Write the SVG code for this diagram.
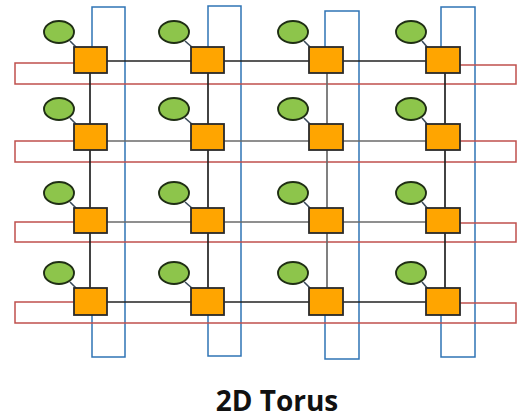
<svg xmlns="http://www.w3.org/2000/svg" width="517" height="419" viewBox="0 0 517 419">
<style>
.bg{fill:#ffffff}
.grid{stroke:#222;stroke-width:1.7;fill:none}
.gridl{stroke:#6a6a6a;stroke-width:1.7;fill:none}
.wrapv{stroke:#2f74b5;stroke-width:1.5;fill:none}
.wraph{stroke:#c0504d;stroke-width:1.5;fill:none}
.pe{fill:#8dc54b;stroke:#1f2e14;stroke-width:1.9}
.sw{fill:#ffa500;stroke:#2a2a2a;stroke-width:1.8}
.link{stroke:#3a4a5a;stroke-width:1.6}
.title{font-family:"Open Sans","DejaVu Sans",sans-serif;font-weight:bold;font-size:28px;fill:#111}
</style>
<rect class="bg" x="0" y="0" width="517" height="419"/>
<g id="connectors">
  <path class="wrapv" d="M92,47 V7 H125 V357 H92 V315"/>
  <path class="wrapv" d="M208,47 V6 H241 V356 H208 V315"/>
  <path class="wrapv" d="M325,47 V11 H359 V359 H325 V315"/>
  <path class="wrapv" d="M441,47 V7 H475 V357 H441 V315"/>
  <path class="wraph" d="M74,63 H15 V84 H516 V65 H460"/>
  <path class="wraph" d="M74,141 H15 V162 H516 V141 H460"/>
  <path class="wraph" d="M74,222 H15 V242 H516 V223 H460"/>
  <path class="wraph" d="M74,302 H15 V323 H516 V303 H460"/>
  <line class="grid" x1="107" y1="61" x2="426" y2="61"/>
  <line class="gridl" x1="107" y1="141" x2="426" y2="141"/>
  <line class="gridl" x1="107" y1="222" x2="426" y2="222"/>
  <line class="grid" x1="107" y1="302" x2="426" y2="302"/>
  <line class="grid" x1="90" y1="73" x2="90" y2="288"/>
  <line class="grid" x1="208" y1="73" x2="208" y2="288"/>
  <line class="gridl" x1="327" y1="73" x2="327" y2="288"/>
  <line class="grid" x1="445" y1="73" x2="445" y2="288"/>
</g>
<g id="n11"><line class="link" x1="70" y1="41" x2="77" y2="48"/><ellipse class="pe" cx="59" cy="32" rx="15" ry="11"/><rect class="sw" x="74" y="47" width="33" height="26"/></g>
<g id="n12"><line class="link" x1="185" y1="41" x2="193" y2="48"/><ellipse class="pe" cx="174" cy="32" rx="15" ry="11"/><rect class="sw" x="191" y="47" width="33" height="26"/></g>
<g id="n13"><line class="link" x1="304" y1="41" x2="311" y2="48"/><ellipse class="pe" cx="293" cy="32" rx="15" ry="11"/><rect class="sw" x="309" y="47" width="34" height="26"/></g>
<g id="n14"><line class="link" x1="422" y1="41" x2="428" y2="48"/><ellipse class="pe" cx="411" cy="32" rx="15" ry="11"/><rect class="sw" x="426" y="47" width="34" height="26"/></g>

<g id="n21"><line class="link" x1="70" y1="118" x2="77" y2="125"/><ellipse class="pe" cx="59" cy="109" rx="15" ry="11"/><rect class="sw" x="74" y="124" width="33" height="26"/></g>
<g id="n22"><line class="link" x1="185" y1="118" x2="193" y2="125"/><ellipse class="pe" cx="174" cy="109" rx="15" ry="11"/><rect class="sw" x="191" y="124" width="33" height="26"/></g>
<g id="n23"><line class="link" x1="304" y1="118" x2="311" y2="125"/><ellipse class="pe" cx="293" cy="109" rx="15" ry="11"/><rect class="sw" x="309" y="124" width="34" height="26"/></g>
<g id="n24"><line class="link" x1="422" y1="118" x2="428" y2="125"/><ellipse class="pe" cx="411" cy="109" rx="15" ry="11"/><rect class="sw" x="426" y="124" width="34" height="26"/></g>

<g id="n31"><line class="link" x1="70" y1="202" x2="77" y2="209"/><ellipse class="pe" cx="59" cy="193" rx="15" ry="11"/><rect class="sw" x="74" y="208" width="33" height="25"/></g>
<g id="n32"><line class="link" x1="185" y1="202" x2="193" y2="209"/><ellipse class="pe" cx="174" cy="193" rx="15" ry="11"/><rect class="sw" x="191" y="208" width="33" height="25"/></g>
<g id="n33"><line class="link" x1="304" y1="202" x2="311" y2="209"/><ellipse class="pe" cx="293" cy="193" rx="15" ry="11"/><rect class="sw" x="309" y="208" width="34" height="25"/></g>
<g id="n34"><line class="link" x1="422" y1="202" x2="428" y2="209"/><ellipse class="pe" cx="411" cy="193" rx="15" ry="11"/><rect class="sw" x="426" y="208" width="34" height="25"/></g>

<g id="n41"><line class="link" x1="70" y1="282" x2="77" y2="289"/><ellipse class="pe" cx="59" cy="273" rx="15" ry="11"/><rect class="sw" x="74" y="288" width="33" height="27"/></g>
<g id="n42"><line class="link" x1="185" y1="282" x2="193" y2="289"/><ellipse class="pe" cx="174" cy="273" rx="15" ry="11"/><rect class="sw" x="191" y="288" width="33" height="27"/></g>
<g id="n43"><line class="link" x1="304" y1="282" x2="311" y2="289"/><ellipse class="pe" cx="293" cy="273" rx="15" ry="11"/><rect class="sw" x="309" y="288" width="34" height="27"/></g>
<g id="n44"><line class="link" x1="422" y1="282" x2="428" y2="289"/><ellipse class="pe" cx="411" cy="273" rx="15" ry="11"/><rect class="sw" x="426" y="288" width="34" height="27"/></g>

<text class="title" x="277" y="411" text-anchor="middle">2D Torus</text>
</svg>
